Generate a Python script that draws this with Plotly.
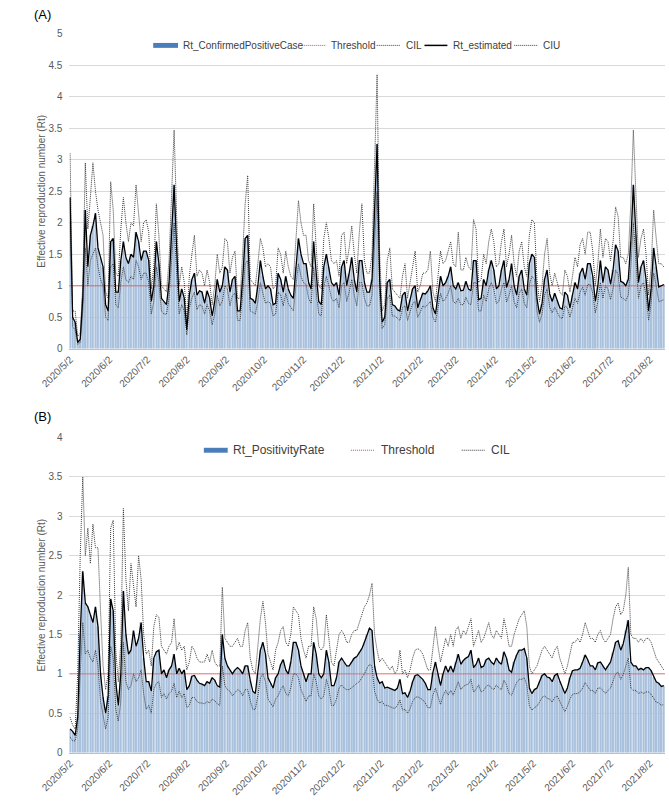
import pandas as pd
import plotly.graph_objects as go

# ---------------- data (values every 2 days from 2020/5/2) ----------------
start_date = "2020-05-02"
n_points = 235
tick_labels_start = "2020-05-02"
threshold_value = 1.0

rt_est_A = [
    2.4,0.5,0.42,0.1,0.15,0.8,2.2,1.3,1.8,1.95,
    2.15,1.6,1.45,1.3,0.7,0.6,1.7,1.75,0.9,0.9,
    1.4,1.7,1.45,1.35,1.5,1.45,1.85,1.7,1.4,1.55,
    1.55,1.4,0.75,1.0,1.7,1.35,0.8,0.75,0.7,1.05,
    1.9,2.6,1.6,0.75,0.95,0.8,0.3,0.85,1.1,1.2,
    0.85,0.92,0.9,0.72,0.92,0.8,0.52,0.75,1.1,0.9,
    1.0,1.3,1.25,0.9,1.1,1.15,0.6,0.6,1.1,1.75,
    1.8,0.8,0.78,0.72,1.0,1.4,1.15,0.95,1.0,0.95,
    0.7,0.72,1.2,1.1,0.9,1.15,0.95,0.85,0.8,1.3,
    1.75,1.5,1.35,1.35,1.05,0.95,1.7,1.2,0.75,0.7,
    1.3,1.5,1.3,1.05,1.0,1.05,0.85,1.3,1.4,1.0,
    1.2,1.45,1.1,0.9,1.4,1.4,1.05,0.9,0.9,1.1,
    2.2,3.25,1.1,0.42,0.5,1.05,1.1,0.7,0.68,0.62,
    0.6,0.85,0.9,0.6,0.78,0.95,1.0,0.65,0.77,0.88,
    0.87,0.92,1.0,0.65,0.55,0.85,1.15,1.0,1.05,1.15,
    1.3,1.0,0.95,1.05,0.92,0.93,1.07,0.95,0.92,1.4,
    1.4,0.78,0.8,1.1,1.0,1.25,1.4,1.25,0.95,1.0,
    1.25,1.4,0.97,1.1,1.35,1.0,0.85,1.15,1.25,0.95,
    0.85,1.35,1.5,1.45,0.8,0.55,0.72,1.1,1.25,0.87,
    0.75,0.88,0.77,0.65,0.63,0.9,0.85,0.65,0.85,1.05,
    0.95,1.2,1.28,1.1,1.35,1.35,1.15,0.75,1.0,1.4,
    1.05,1.3,1.25,1.02,1.25,1.65,1.55,1.07,1.05,1.0,
    1.1,1.7,2.6,1.8,1.05,1.3,1.4,1.1,0.6,0.95,
    1.6,1.3,0.98,1.0,1.02,
]
# bars (Rt_ConfirmedPositiveCase) follow the estimated curve
rt_cases_A = list(rt_est_A)

ciu_A = [
    3.1,0.6,0.6,0.2,0.25,1.0,2.95,1.9,2.4,2.95,
    2.5,2.2,2.0,1.8,0.9,0.8,2.65,2.2,1.2,1.15,
    1.9,2.4,2.0,1.7,2.0,1.95,2.6,2.2,1.7,2.0,
    2.05,1.85,0.95,1.3,2.3,1.8,1.0,0.95,0.9,1.4,
    2.6,3.47,2.1,1.0,1.3,1.05,0.45,1.15,1.5,1.8,
    1.15,1.25,1.2,1.0,1.25,1.05,0.7,1.0,1.5,1.2,
    1.3,1.75,1.7,1.2,1.45,1.55,0.8,0.8,1.5,2.3,
    2.75,1.1,1.05,1.0,1.35,1.75,1.6,1.3,1.35,1.3,
    0.95,1.0,1.6,1.5,1.2,1.55,1.3,1.15,1.1,1.8,
    2.35,2.0,1.8,1.8,1.4,1.3,2.3,1.6,1.0,0.95,
    1.75,2.0,1.75,1.4,1.35,1.4,1.15,1.8,1.85,1.35,
    1.6,1.95,1.5,1.2,1.85,2.3,1.4,1.2,1.2,1.5,
    3.0,4.35,1.5,0.6,0.7,1.4,1.6,0.95,0.9,0.85,
    0.8,1.15,1.35,0.8,1.05,1.3,1.55,0.9,1.0,1.2,
    1.2,1.25,1.55,0.9,0.75,1.15,1.55,1.35,1.4,1.55,
    1.7,1.35,1.3,1.85,1.25,1.25,1.45,1.3,1.25,2.05,
    1.9,1.05,1.1,1.5,1.35,1.7,1.9,1.7,1.3,1.35,
    1.7,1.9,1.3,1.5,1.8,1.35,1.15,1.55,1.7,1.3,
    1.15,1.8,2.05,2.0,1.1,0.75,1.0,1.5,1.75,1.2,
    1.0,1.2,1.05,0.9,0.85,1.25,1.15,0.9,1.15,1.45,
    1.3,1.65,1.75,1.5,1.85,1.85,1.55,1.0,1.35,1.9,
    1.45,1.75,1.7,1.4,1.7,2.25,2.1,1.45,1.45,1.35,
    1.5,2.3,3.47,2.45,1.45,1.75,1.9,1.5,0.85,1.3,
    2.2,1.75,1.35,1.35,1.3,
]

cil_A = [
    2.0,0.35,0.3,0.07,0.1,0.6,1.6,1.0,1.4,1.5,
    1.6,1.3,1.1,1.0,0.5,0.45,1.3,1.35,0.7,0.65,
    1.05,1.3,1.1,1.05,1.15,1.1,1.4,1.3,1.1,1.2,
    1.2,1.05,0.55,0.75,1.3,1.05,0.6,0.55,0.55,0.8,
    1.45,2.0,1.2,0.55,0.7,0.6,0.22,0.65,0.8,0.9,
    0.62,0.7,0.68,0.55,0.7,0.6,0.38,0.55,0.85,0.68,
    0.75,1.0,0.95,0.68,0.85,0.88,0.45,0.45,0.85,1.35,
    1.4,0.6,0.58,0.55,0.75,1.05,0.88,0.72,0.75,0.72,
    0.52,0.55,0.9,0.85,0.68,0.88,0.72,0.65,0.6,1.0,
    1.35,1.15,1.05,1.02,0.8,0.72,1.3,0.9,0.55,0.52,
    0.98,1.15,1.0,0.8,0.75,0.8,0.65,1.0,1.05,0.75,
    0.9,1.1,0.85,0.68,1.05,1.05,0.8,0.68,0.68,0.85,
    1.7,2.5,0.85,0.32,0.38,0.8,0.85,0.52,0.52,0.48,
    0.45,0.65,0.68,0.45,0.6,0.72,0.75,0.5,0.58,0.68,
    0.66,0.7,0.75,0.5,0.42,0.65,0.88,0.75,0.8,0.88,
    1.0,0.75,0.72,0.8,0.7,0.7,0.82,0.72,0.7,1.05,
    1.05,0.6,0.6,0.85,0.75,0.95,1.05,0.95,0.72,0.75,
    0.95,1.05,0.74,0.85,1.0,0.75,0.65,0.88,0.95,0.72,
    0.65,1.02,1.15,1.1,0.6,0.42,0.55,0.85,0.95,0.66,
    0.57,0.66,0.58,0.5,0.48,0.68,0.65,0.5,0.65,0.8,
    0.72,0.9,0.98,0.85,1.02,1.02,0.88,0.57,0.75,1.05,
    0.8,1.0,0.95,0.78,0.95,1.25,1.18,0.82,0.8,0.76,
    0.85,1.3,2.0,1.35,0.8,1.0,1.05,0.85,0.45,0.72,
    1.2,1.0,0.75,0.76,0.78,
]

rt_est_B = [
    0.3,0.27,0.22,0.45,1.5,2.3,1.9,1.85,1.75,1.65,
    1.85,1.6,1.0,0.7,0.5,0.72,1.95,1.8,0.9,0.6,
    1.0,2.05,1.5,1.25,1.3,1.55,1.35,1.45,1.65,1.2,
    0.9,0.9,0.78,1.2,1.28,1.3,1.0,1.05,0.95,1.05,
    1.1,1.25,1.0,1.07,1.0,1.05,0.8,0.85,0.97,0.98,
    0.92,0.88,0.87,0.85,0.9,0.88,0.95,0.92,0.85,0.83,
    1.5,1.2,1.1,1.05,1.0,1.05,1.08,1.05,1.0,1.1,
    1.1,0.92,0.78,0.75,1.0,1.3,1.4,1.25,0.95,0.88,
    0.82,0.95,1.0,1.12,1.18,1.05,1.0,1.15,1.4,1.4,
    1.3,1.1,1.0,0.9,1.0,1.0,1.4,1.25,1.0,0.95,
    1.0,1.3,1.15,0.85,0.85,0.95,1.15,1.2,1.15,1.1,
    1.1,1.15,1.2,1.22,1.28,1.32,1.4,1.5,1.58,1.55,
    1.1,0.95,0.88,0.9,0.82,0.83,0.82,0.8,0.79,0.82,
    0.93,0.75,0.76,0.7,0.78,0.9,0.98,0.99,0.96,0.93,
    0.88,0.8,0.8,1.02,1.15,1.0,0.85,1.0,1.1,1.02,
    1.1,1.02,1.15,1.25,1.12,1.17,1.2,1.22,1.3,1.08,
    1.12,1.2,1.08,1.1,1.18,1.2,1.15,1.12,1.2,1.15,
    1.12,1.28,1.2,1.05,1.02,1.15,1.24,1.3,1.3,1.32,
    1.2,0.82,0.75,0.8,0.82,0.9,0.98,1.0,0.96,0.95,
    0.9,0.98,1.0,0.91,0.83,0.75,0.82,0.95,1.04,1.05,
    1.05,1.07,1.15,1.24,1.18,1.1,1.1,1.05,1.14,1.15,
    1.1,1.05,1.1,1.15,1.27,1.4,1.42,1.3,1.38,1.55,
    1.68,1.15,1.1,1.1,1.05,1.07,1.05,1.08,1.08,1.04,
    0.96,0.9,0.88,0.84,0.85,
]
# bars (Rt_PositivityRate) follow the estimated curve
rt_pos_B = list(rt_est_B)

ciu_B = [
    0.45,0.35,0.3,1.0,2.5,3.5,2.5,2.85,2.4,2.9,
    2.6,2.6,1.8,1.1,0.8,1.0,2.85,2.95,1.3,0.9,
    1.4,3.1,2.2,1.8,2.4,2.1,1.85,2.5,2.2,1.5,
    1.25,1.3,1.1,1.6,1.75,1.72,1.35,1.3,1.25,1.35,
    1.4,1.7,1.3,1.4,1.3,1.35,1.05,1.15,1.35,1.3,
    1.2,1.15,1.15,1.15,1.25,1.15,1.3,1.15,1.1,1.1,
    2.1,1.45,1.4,1.35,1.35,1.4,1.45,1.35,1.35,1.55,
    1.65,1.2,1.05,1.0,1.35,1.7,1.92,1.65,1.25,1.15,
    1.05,1.3,1.4,1.55,1.6,1.4,1.35,1.5,1.85,1.8,
    1.75,1.45,1.3,1.2,1.35,1.35,1.85,1.7,1.35,1.3,
    1.35,1.75,1.45,1.15,1.1,1.3,1.5,1.55,1.5,1.4,
    1.4,1.5,1.55,1.55,1.65,1.75,1.85,1.9,2.0,2.15,
    1.5,1.3,1.15,1.2,1.15,1.1,1.05,1.1,1.0,1.05,
    1.3,1.0,1.05,0.95,1.05,1.2,1.3,1.32,1.3,1.25,
    1.15,1.05,1.05,1.35,1.6,1.35,1.15,1.3,1.45,1.35,
    1.5,1.35,1.55,1.6,1.45,1.55,1.5,1.6,1.7,1.35,
    1.45,1.55,1.4,1.45,1.55,1.65,1.5,1.45,1.55,1.5,
    1.45,1.7,1.55,1.35,1.35,1.5,1.6,1.7,1.75,1.8,
    1.6,1.1,1.0,1.05,1.1,1.2,1.3,1.35,1.3,1.25,
    1.2,1.3,1.35,1.2,1.1,1.0,1.1,1.25,1.4,1.4,
    1.45,1.4,1.5,1.65,1.55,1.45,1.45,1.4,1.5,1.55,
    1.45,1.4,1.45,1.5,1.7,1.85,1.9,1.75,1.8,2.0,
    2.35,1.5,1.45,1.45,1.4,1.45,1.4,1.45,1.45,1.4,
    1.3,1.2,1.15,1.1,1.05,
]

cil_B = [
    0.2,0.15,0.15,0.3,1.0,1.65,1.25,1.3,1.2,1.15,
    1.3,1.1,0.65,0.45,0.3,0.45,1.35,1.2,0.55,0.4,
    0.65,1.4,0.9,0.8,0.85,1.0,0.9,0.95,1.05,0.75,
    0.55,0.6,0.5,0.8,0.88,0.9,0.7,0.75,0.68,0.75,
    0.78,0.88,0.7,0.78,0.7,0.75,0.57,0.6,0.7,0.7,
    0.65,0.63,0.63,0.62,0.65,0.63,0.68,0.66,0.62,0.6,
    1.1,0.85,0.8,0.78,0.72,0.76,0.8,0.78,0.72,0.8,
    0.8,0.66,0.55,0.55,0.72,0.95,1.0,0.9,0.68,0.63,
    0.58,0.68,0.72,0.8,0.85,0.75,0.72,0.82,1.0,1.0,
    0.95,0.8,0.72,0.65,0.72,0.72,1.0,0.9,0.72,0.68,
    0.72,0.93,0.82,0.6,0.6,0.68,0.82,0.86,0.82,0.8,
    0.8,0.82,0.85,0.88,0.9,0.95,1.0,1.07,1.12,1.1,
    0.78,0.68,0.63,0.65,0.6,0.6,0.58,0.57,0.56,0.6,
    0.67,0.54,0.55,0.5,0.56,0.65,0.7,0.71,0.69,0.67,
    0.63,0.57,0.57,0.73,0.82,0.72,0.61,0.72,0.79,0.73,
    0.79,0.73,0.82,0.9,0.8,0.84,0.86,0.87,0.93,0.77,
    0.8,0.86,0.77,0.79,0.84,0.86,0.82,0.8,0.86,0.82,
    0.8,0.92,0.86,0.75,0.73,0.82,0.89,0.93,0.93,0.95,
    0.86,0.59,0.54,0.57,0.59,0.64,0.7,0.72,0.69,0.68,
    0.64,0.7,0.72,0.65,0.59,0.52,0.59,0.68,0.74,0.75,
    0.75,0.77,0.82,0.89,0.84,0.79,0.79,0.75,0.82,0.82,
    0.79,0.75,0.79,0.82,0.91,1.0,1.02,0.93,0.99,1.1,
    1.2,0.82,0.79,0.79,0.75,0.77,0.75,0.77,0.77,0.74,
    0.69,0.64,0.63,0.6,0.61,
]

legend_A = ["Rt_ConfirmedPositiveCase", "Threshold", "CIL", "Rt_estimated", "CIU"]
legend_B = ["Rt_PositivityRate", "Threshold", "CIL"]
y_title = "Effective reproduction number (Rt)"

# ---------------- layout helpers ----------------
W, H = 669, 801
dates = pd.date_range(start_date, periods=n_points, freq="2D")
x_first = dates[0] - pd.Timedelta(hours=12)
x_last = dates[-1] + pd.Timedelta(days=1)

FONT = "Liberation Sans, Arial, sans-serif"
GREY = "#595959"
BAR_COLOR = "#a9c1dc"
CI_COLOR = "#3c3c3c"
RED = "#dc4c4c"
DOTS = "1px,1px"
DAY_MS = 86400000


def px(x):
    return x / W


def py(y):
    return 1 - y / H


fig = go.Figure()


def add_panel(xs, ys, bars, bar_name, est, cil, ciu):
    fig.add_trace(go.Bar(x=dates, y=bars, name=bar_name, marker_color=BAR_COLOR,
                         marker_line_width=0, width=1.4 * DAY_MS,
                         xaxis=xs, yaxis=ys, showlegend=False))
    fig.add_trace(go.Scatter(x=[x_first, x_last], y=[threshold_value, threshold_value],
                             mode="lines", name="Threshold",
                             line=dict(color=RED, width=1.4, dash=DOTS),
                             xaxis=xs, yaxis=ys, showlegend=False))
    fig.add_trace(go.Scatter(x=dates, y=cil, mode="lines", name="CIL",
                             line=dict(color=CI_COLOR, width=1, dash=DOTS),
                             xaxis=xs, yaxis=ys, showlegend=False))
    fig.add_trace(go.Scatter(x=dates, y=ciu, mode="lines", name="CIU",
                             line=dict(color=CI_COLOR, width=1, dash=DOTS),
                             xaxis=xs, yaxis=ys, showlegend=False))
    fig.add_trace(go.Scatter(x=dates, y=est, mode="lines", name="Rt_estimated",
                             line=dict(color="#000000", width=1.3),
                             xaxis=xs, yaxis=ys, showlegend=False))


add_panel("x", "y", rt_cases_A, legend_A[0], rt_est_A, cil_A, ciu_A)
add_panel("x2", "y2", rt_pos_B, legend_B[0], rt_est_B, cil_B, ciu_B)

x_dom = [px(41.3), px(664.9)]
xcommon = dict(type="date", range=[x_first, x_last], domain=x_dom,
               tick0=tick_labels_start, dtick="M1", tickformat="%Y/%-m/%-d",
               tickangle=-45, tickfont=dict(family=FONT, size=10, color=GREY),
               showgrid=False, showline=True, linecolor="#bfbfbf", linewidth=1,
               ticks="", zeroline=False)
ycommon = dict(dtick=0.5, showgrid=True, gridcolor="#d9d9d9", gridwidth=1,
               tickfont=dict(family=FONT, size=10, color=GREY), ticks="",
               zeroline=False, showline=False, ticklabelstandoff=6)

fig.update_layout(
    width=W, height=H, margin=dict(l=0, r=0, t=0, b=0),
    paper_bgcolor="white", plot_bgcolor="white", barmode="overlay",
    font=dict(family=FONT, color=GREY),
    xaxis=dict(**xcommon, anchor="y"),
    yaxis=dict(**ycommon, range=[0, 5], domain=[py(348), py(28)], anchor="x"),
    xaxis2=dict(**xcommon, anchor="y2"),
    yaxis2=dict(**ycommon, range=[0, 4], domain=[py(758), py(438)], anchor="x2"),
    showlegend=False,
)

shapes = []
annotations = []


def label(x, y, text, size, color="#404040", xanchor="left", angle=0):
    annotations.append(dict(x=px(x), y=py(y), xref="paper", yref="paper", text=text,
                            showarrow=False, xanchor=xanchor, yanchor="middle",
                            textangle=angle, font=dict(family=FONT, size=size, color=color)))


def sample_line(x0, x1, y, color, dash, width):
    shapes.append(dict(type="line", xref="paper", yref="paper", x0=px(x0), x1=px(x1),
                       y0=py(y), y1=py(y), line=dict(color=color, dash=dash, width=width)))


def sample_bar(x0, x1, y):
    shapes.append(dict(type="rect", xref="paper", yref="paper", x0=px(x0), x1=px(x1),
                       y0=py(y - 2.5), y1=py(y + 2.5), line=dict(width=0),
                       fillcolor="#4a7ebb"))


# panel labels
label(2, 9, "(A)", 13, "#000000")
label(2, 417, "(B)", 13, "#000000")
# y titles
label(12, 188, y_title, 10, GREY, xanchor="center", angle=-90)
label(12, 598, y_title, 10, GREY, xanchor="center", angle=-90)

# legend A
ly = 40
sample_bar(129, 155, ly)
label(158, ly, legend_A[0], 10)
sample_line(285, 310, ly, RED, DOTS, 1)
label(313, ly, legend_A[1], 10)
sample_line(363, 388, ly, CI_COLOR, DOTS, 1)
label(392, ly, legend_A[2], 10)
sample_line(413, 437, ly, "#000000", "solid", 1.5)
label(441, ly, legend_A[3], 10)
sample_line(507, 531, ly, CI_COLOR, DOTS, 1)
label(535, ly, legend_A[4], 10)

# legend B
ly = 451
sample_bar(182, 207, ly)
label(210, ly, legend_B[0], 12)
sample_line(336, 361, ly, RED, DOTS, 1)
label(365, ly, legend_B[1], 12)
sample_line(452, 476, ly, CI_COLOR, DOTS, 1)
label(481, ly, legend_B[2], 12)

fig.update_layout(shapes=shapes, annotations=annotations)

fig.write_html("out.html", config={"displayModeBar": False},
               post_script="document.body.style.margin='0';document.body.style.overflow='hidden';")
